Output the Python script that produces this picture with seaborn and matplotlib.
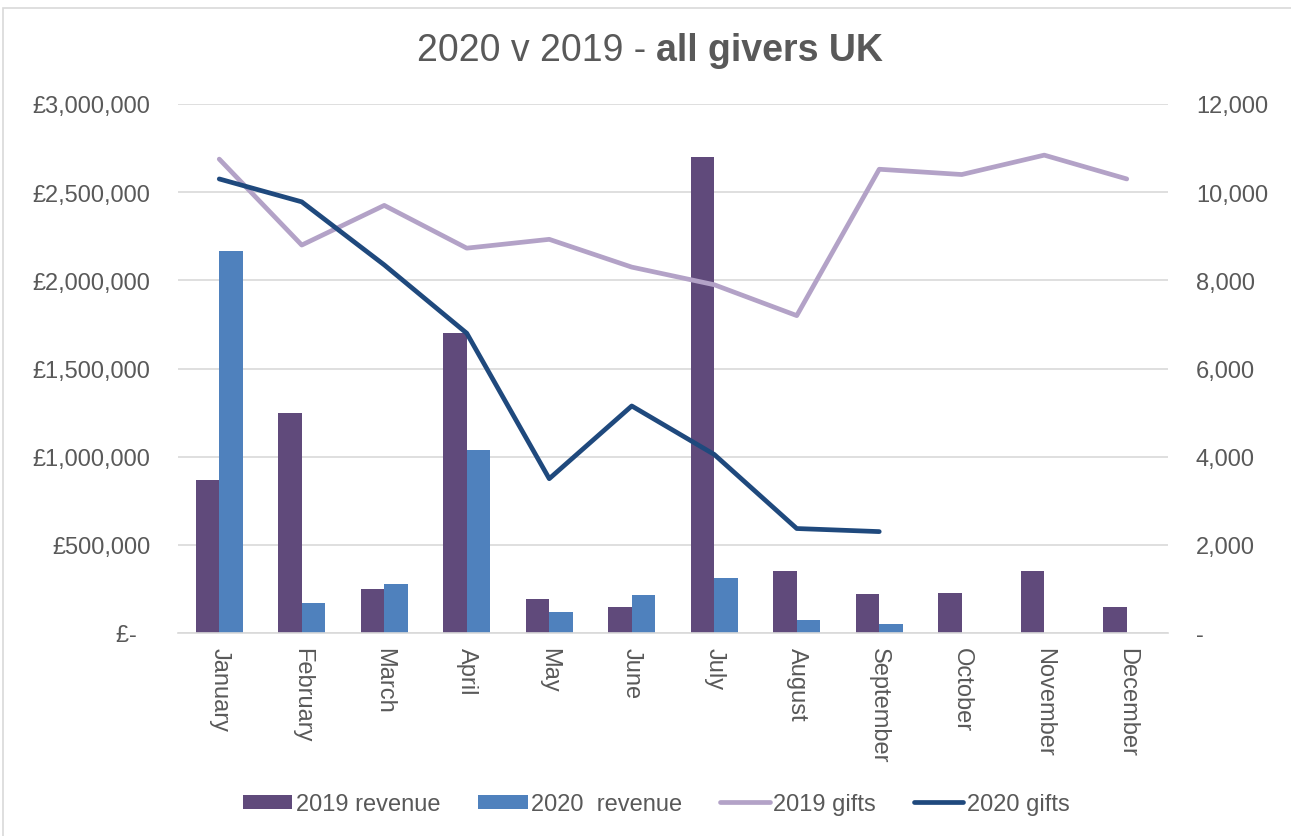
import numpy as np
import pandas as pd
import matplotlib
matplotlib.use("Agg")
import matplotlib.pyplot as plt
import seaborn as sns
from matplotlib.ticker import FuncFormatter, MultipleLocator
from matplotlib.patches import Patch, Rectangle
from matplotlib.lines import Line2D

# ---- data -------------------------------------------------------------
months = ["January", "February", "March", "April", "May", "June", "July",
          "August", "September", "October", "November", "December"]
revenue_2019 = [870000, 1250000, 250000, 1700000, 190000, 145000,
                2700000, 350000, 220000, 225000, 350000, 145000]
revenue_2020 = [2165000, 170000, 280000, 1035000, 120000, 215000,
                310000, 75000, 50000]
gifts_2019 = [10750, 8800, 9700, 8730, 8930, 8300, 7900, 7200,
              10520, 10400, 10840, 10300]
gifts_2020 = [10300, 9780, 8350, 6800, 3500, 5150, 4050, 2370, 2300]

series_labels = ["2019 revenue", "2020  revenue", "2019 gifts", "2020 gifts"]
colors = ["#604A7B", "#4F81BD", "#B3A2C7", "#1F497D"]
text_color = "#595959"
grid_color = "#D9D9D9"
label_size = 17

sns.set_theme(style="white")
plt.rcParams["font.family"] = ["Liberation Sans", "DejaVu Sans"]

rev = pd.concat([
    pd.DataFrame({"month": months, "value": revenue_2019, "series": series_labels[0]}),
    pd.DataFrame({"month": months[:len(revenue_2020)], "value": revenue_2020,
                  "series": series_labels[1]}),
], ignore_index=True)

fig = plt.figure(figsize=(12.91, 8.37), dpi=100)
W, H = 1291, 837
ax = fig.add_axes([178 / W, 1 - 634 / H, (1168 - 178) / W, (634 - 105) / H])

sns.barplot(data=rev, x="month", y="value", hue="series", order=months,
            hue_order=series_labels[:2], palette=colors[:2], width=0.57,
            saturation=1, errorbar=None, legend=False, linewidth=0, ax=ax)

ax2 = ax.twinx()
pos = {m: i for i, m in enumerate(months)}
g19 = pd.DataFrame({"x": [pos[m] for m in months], "y": gifts_2019})
g20 = pd.DataFrame({"x": [pos[m] for m in months[:len(gifts_2020)]], "y": gifts_2020})
sns.lineplot(data=g19, x="x", y="y", color=colors[2], linewidth=3.4,
             solid_capstyle="round", ax=ax2)
sns.lineplot(data=g20, x="x", y="y", color=colors[3], linewidth=3.4,
             solid_capstyle="round", ax=ax2)

# ---- axes styling ------------------------------------------------------
ax.set_xlim(-0.5, len(months) - 0.5)
ax.set_ylim(0, 3000000)
ax2.set_ylim(0, 12000)
ax.yaxis.set_major_locator(MultipleLocator(500000))
ax2.yaxis.set_major_locator(MultipleLocator(2000))

ax.yaxis.set_major_formatter(FuncFormatter(
    lambda v, p: "£-  " if v == 0 else f"£{v:,.0f}"))
ax2.yaxis.set_major_formatter(FuncFormatter(
    lambda v, p: "-" if v == 0 else f"{v:,.0f}"))

for a in (ax, ax2):
    a.set_xlabel("")
    a.set_ylabel("")
    for s in a.spines.values():
        s.set_visible(False)

ax.grid(axis="y", color=grid_color, linewidth=1.2)
ax.grid(axis="x", visible=False)
ax.set_axisbelow(True)
ax.spines["bottom"].set_visible(True)
ax.spines["bottom"].set_color(grid_color)
ax.spines["bottom"].set_linewidth(1.2)

ax.tick_params(axis="y", length=0, pad=20, labelsize=label_size, labelcolor=text_color)
ax2.tick_params(axis="y", length=0, pad=20, labelsize=label_size, labelcolor=text_color)
ax.tick_params(axis="x", length=0, pad=10, labelsize=label_size, labelcolor=text_color)
ax.set_xticks(range(len(months)))
ax.set_xticklabels(months, rotation=-90, ha="center", va="top")

# ---- legend ------------------------------------------------------------
handles = [
    Patch(facecolor=colors[0], edgecolor="none"),
    Patch(facecolor=colors[1], edgecolor="none"),
    Line2D([], [], color=colors[2], linewidth=3.4, solid_capstyle="round"),
    Line2D([], [], color=colors[3], linewidth=3.4, solid_capstyle="round"),
]
fig.legend(handles, series_labels, loc="center", bbox_to_anchor=(656 / W, 1 - 805 / H),
           ncol=4, frameon=False, fontsize=label_size, labelcolor=text_color,
           handlelength=2.1, handleheight=0.55, handletextpad=0.15, columnspacing=1.6)

# ---- title: regular part followed by bold part -------------------------
title_y = 1 - 51 / H
t1 = fig.text(0, title_y, "2020 v 2019 - ", fontsize=27, color=text_color,
              ha="left", va="center")
t2 = fig.text(0, title_y, "all givers UK", fontsize=27, color=text_color,
              fontweight="bold", ha="left", va="center")
fig.canvas.draw()
r = fig.canvas.get_renderer()
w1 = t1.get_window_extent(r).width
w2 = t2.get_window_extent(r).width
x0 = 650 - (w1 + w2) / 2
t1.set_x(x0 / W)
t2.set_x((x0 + w1) / W)

# chart frame
fig.patches.append(Rectangle((3 / W, -0.05), 1.1, 1 - 9 / H + 0.05,
                             transform=fig.transFigure, fill=False,
                             edgecolor=grid_color, linewidth=1.2))

fig.savefig("out.png", dpi=100)
